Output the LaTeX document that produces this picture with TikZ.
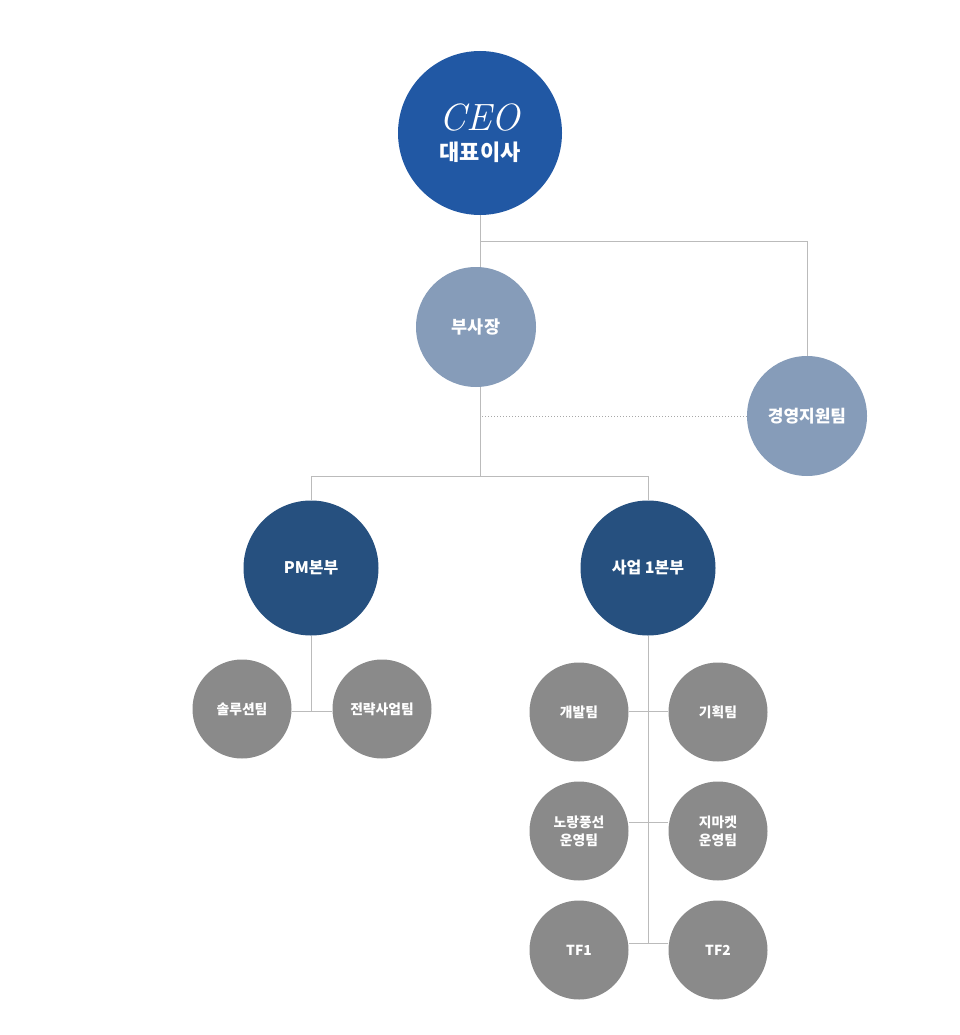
\documentclass[tikz,border=0pt]{standalone}
\usepackage{fontspec}
\usepackage{tikz}
\usetikzlibrary{calc,arrows.meta,positioning}
\newfontfamily\kr{Noto Sans CJK KR}
\usepackage{xcolor}
\definecolor{ceoblue}{HTML}{2158A4}
\definecolor{vpblue}{HTML}{869CB9}
\definecolor{deptblue}{HTML}{26507F}
\definecolor{teamgray}{HTML}{8A8A8A}
\definecolor{linegray}{HTML}{BBBBBB}

\begin{document}
\begin{tikzpicture}
    [>=Latex, link/.style={draw=linegray, line width=0.9pt}, dotlink/.style={draw=linegray!90!black, line width=0.9pt, dash pattern=on 1pt off 2pt},
    every node/.style={text=white, font=\kr\bfseries}]
    % Define styles for the circles
    \tikzstyle{top} = [circle, fill=ceoblue, minimum size=164pt, inner sep=0pt, align=center]
    \tikzstyle{vice} = [circle, fill=vpblue, minimum size=120pt, inner sep=0pt, font=\kr\bfseries\fontsize{17.5}{20}\selectfont]
    \tikzstyle{dept} = [circle, fill=deptblue, minimum size=135pt, inner sep=0pt, font=\kr\bfseries\fontsize{16}{19}\selectfont]
    \tikzstyle{team} = [circle, fill=teamgray, minimum size=99pt, inner sep=0pt, align=center, font=\kr\bfseries\fontsize{13.8}{18}\selectfont]

    \useasboundingbox (0,0) rectangle (960pt,-1035pt);

    % Nodes placement
    \node [top] (ceo) at (480pt,-133pt) {{\fontfamily{lmr}\itshape\mdseries\fontsize{38}{38}\selectfont CEO}\\[9pt]{\fontsize{22}{24}\selectfont 대표이사}};
    \node [vice, below of=ceo, node distance=194pt, xshift=-4pt] (vp) {부사장};
    \node [vice, right of=vp, node distance=331pt, yshift=-89pt, font=\kr\bfseries\fontsize{17}{20}\selectfont] (mgmt) {경영지원팀};
    \node [dept, below of=vp, node distance=241pt, xshift=-165pt] (pm) {PM본부};
    \node [dept, right of=pm, node distance=337pt] (biz) {사업 1본부};

    \node [team, below of=pm, node distance=141pt, xshift=-69pt] (sol) {솔루션팀};
    \node [team, right of=sol, node distance=140pt] (strat) {전략사업팀};

    \node [team, below of=biz, node distance=144pt, xshift=-69pt] (dev) {개발팀};
    \node [team, right of=dev, node distance=139pt] (plan) {기획팀};
    \node [team, below of=dev, node distance=119pt] (balloon) {노랑풍선\\운영팀};
    \node [team, right of=balloon, node distance=139pt] (gmarket) {지마켓\\운영팀};
    \node [team, below of=balloon, node distance=119pt] (tfone) {TF1};
    \node [team, right of=tfone, node distance=139pt] (tftwo) {TF2};

    % Junction points
    \coordinate (ceojoin) at ($(ceo.south)+(0,-26pt)$);
    \coordinate (vpjoin) at (ceo.south |- 0,-476pt);
    \coordinate (dotjoin) at (ceo.south |- mgmt.west);
    \coordinate (pmjoin) at (pm.south |- 0,-711pt);
    \coordinate (bizjoin) at (biz.south |- 0,-943pt);

    % Draw edges
    \draw[link] (ceo.south) -- (ceo.south |- vp.north);
    \draw[link] (ceojoin) -| (mgmt.north);
    \draw[link] (ceo.south |- vp.south) -- (vpjoin);
    \draw[link] (vpjoin) -| (pm.north);
    \draw[link] (vpjoin) -| (biz.north);
    \draw[dotlink] ($(dotjoin)+(2pt,0)$) -- (mgmt.west);

    \draw[link] (pm.south) -- (pmjoin);
    \draw[link] (sol.east |- pmjoin) -- (strat.west |- pmjoin);

    \draw[link] (biz.south) -- (bizjoin);
    \draw[link] (dev.east |- 0,-711pt) -- (plan.west |- 0,-711pt);
    \draw[link] (balloon.east |- 0,-822pt) -- (gmarket.west |- 0,-822pt);
    \draw[link] (tfone.east |- bizjoin) -- (tftwo.west |- bizjoin);
\end{tikzpicture}
\end{document}
